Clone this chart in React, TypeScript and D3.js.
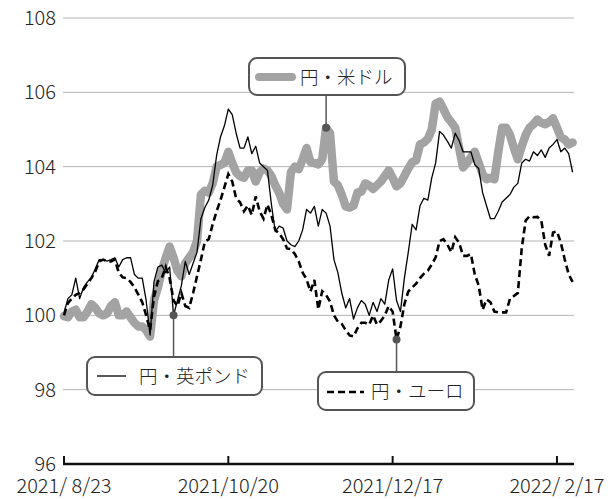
import React from 'react';
import * as d3 from 'd3';

// trading-day index series (roughly 1 point per business day)
const usdJpy = [
  99.98, 99.95, 100.1, 100.15, 99.95, 99.95, 100.1, 100.3, 100.2, 100.05,
  100.0, 100.05, 100.25, 100.35, 100.0, 100.0, 100.1, 99.95, 99.8, 99.7,
  99.7, 99.6, 99.43, 100.4, 100.75, 101.2, 101.55, 101.85, 101.55, 101.2,
  101.05, 101.4, 101.55, 101.7, 102.0, 103.25, 103.35, 103.3, 103.55, 104.0,
  104.05, 104.1, 104.4, 104.1, 103.85, 103.74, 103.7, 103.9, 103.9, 103.6,
  103.85, 103.95, 103.9, 103.75, 103.5, 103.3, 103.0, 102.85, 103.85, 104.0,
  103.93, 104.2, 104.5, 104.12, 104.1, 104.06, 104.2, 105.05, 104.9, 103.6,
  103.5, 103.25, 102.93, 102.9, 102.95, 103.3, 103.33, 103.55, 103.5, 103.4,
  103.5, 103.6, 103.75, 103.9, 103.7, 103.47, 103.55, 103.75, 103.95, 104.12,
  104.17, 104.6, 104.65, 104.75, 105.0, 105.7, 105.75, 105.55, 105.33, 105.2,
  105.05, 104.5, 103.98, 104.1, 104.25, 104.4, 104.1, 103.8, 103.66, 103.7,
  103.66, 104.4, 105.05, 105.05, 104.85, 104.5, 104.2, 104.55, 104.85, 105.05,
  105.14, 105.27, 105.18, 105.14, 105.2, 105.3, 105.05, 104.79, 104.73, 104.6,
  104.65,
];

const gbpJpy = [
  100.07, 100.45, 100.55, 101.0, 100.45, 100.75, 100.9, 101.02, 101.25, 101.5,
  101.5, 101.46, 101.5, 101.55, 101.3, 101.5, 101.55, 101.55, 101.1, 101.0,
  101.0, 100.4, 99.47, 100.9, 101.3, 101.35, 101.15, 101.3, 100.0, 100.4,
  100.8, 101.45, 101.1, 101.4, 101.7, 102.6, 102.9, 103.1, 103.5, 104.3,
  104.8, 105.1, 105.55, 105.4, 104.9, 104.5, 104.5, 104.8, 104.35, 104.55,
  104.1, 104.0, 103.9, 103.0, 102.25, 102.4, 102.35, 102.0, 101.9, 101.85,
  102.0, 102.3, 102.85, 102.75, 102.93, 102.4, 102.85, 102.75, 102.4, 101.5,
  101.15, 100.6, 100.2, 100.45, 99.9, 100.2, 100.4, 100.3, 100.0, 100.35,
  100.1, 100.45, 100.3, 100.95, 101.25, 100.4, 100.1, 101.0, 101.7, 102.45,
  102.3, 102.95, 103.15, 103.1, 103.7, 104.1, 104.95, 104.85, 104.68, 104.5,
  104.9, 104.7, 104.4, 104.4, 104.4, 104.05, 103.95, 103.3, 102.95, 102.6,
  102.6, 102.8, 103.05, 103.15, 103.25, 103.45, 103.55, 104.1, 104.2, 104.15,
  104.4, 104.3, 104.45, 104.25, 104.5, 104.6, 104.73, 104.4, 104.5, 104.35,
  103.85,
];

const eurJpy = [
  100.0, 100.33, 100.45, 100.55, 100.6, 100.7, 100.85, 101.0, 101.18, 101.45,
  101.5, 101.45, 101.45, 101.5, 101.15, 101.02, 101.0, 100.9, 100.75, 100.56,
  100.35, 100.0, 99.6, 100.5, 100.92, 101.0, 101.3, 101.0, 100.4, 100.25,
  100.6, 100.25, 100.2, 100.6, 101.05, 101.5, 101.98, 102.05, 102.45, 102.8,
  103.1, 103.45, 103.8, 103.6, 103.15, 103.04, 102.8, 102.95, 102.7, 103.2,
  102.8, 102.6, 102.98, 102.7, 102.3, 102.2, 102.05, 101.8, 101.78, 101.65,
  101.45, 101.15, 100.97, 100.64, 100.95, 100.16, 100.65, 100.55, 100.37, 100.0,
  99.83, 99.77, 99.6, 99.46, 99.43, 99.65, 99.8, 99.8, 99.75, 100.0,
  99.75, 99.85, 100.0, 100.25, 100.1, 99.35, 99.7, 100.3, 100.64, 100.75,
  100.85, 101.0, 101.12, 101.2, 101.37, 101.56, 102.0, 102.05, 101.9, 101.7,
  102.1, 101.95, 101.6, 101.6, 101.65, 101.1, 100.8, 100.15, 100.43, 100.35,
  100.1, 100.08, 100.08, 100.08, 100.45, 100.52, 100.6, 101.8, 102.55, 102.67,
  102.64, 102.65, 102.55, 101.9, 101.6, 102.23, 102.26, 101.95, 101.5, 101.1,
  100.9,
];

const yTicks = [96, 98, 100, 102, 104, 106, 108];
const xTickIdx = [0, 42, 84, 126];
const xTickLabels = ['2021/ 8/23', '2021/10/20', '2021/12/17', '2022/ 2/17'];

// callout anchor points (index into series)
const usdMark = 67;
const gbpMark = 28;
const eurMark = 85;

const W = 616;
const H = 499;
const FONT = '"Noto Sans CJK JP", "Noto Sans", sans-serif';

export default function App() {
  const x = d3.scaleLinear().domain([0, usdJpy.length - 1]).range([64, 572.6]);
  const y = d3.scaleLinear().domain([96, 108]).range([464, 18]);

  const line = d3
    .line<number>()
    .x((_, i) => x(i))
    .y(d => y(d));

  const usdPt = [x(usdMark), y(usdJpy[usdMark])];
  const gbpPt = [x(gbpMark), y(gbpJpy[gbpMark])];
  const eurPt = [x(eurMark), y(eurJpy[eurMark])];

  return (
    <svg
      width={W}
      height={H}
      style={{ position: 'absolute', left: 0, top: 0, background: '#fff' }}
      fontFamily={FONT}
      fontWeight={300}
    >
      {/* grid + y labels */}
      {yTicks.map(t => (
        <g key={t}>
          {t !== 96 && (
            <line x1={63} x2={574} y1={y(t)} y2={y(t)} stroke="#b4b4b4" strokeWidth={1} />
          )}
          <text x={56} y={y(t) + 7} textAnchor="end" fontSize={20} fill="#222">
            {t}
          </text>
        </g>
      ))}

      {/* x axis */}
      <line x1={63} x2={574} y1={464} y2={464} stroke="#111" strokeWidth={2.5} />
      {xTickIdx.map((t, i) => (
        <g key={t}>
          <line x1={x(t)} x2={x(t)} y1={464} y2={456} stroke="#111" strokeWidth={2} />
          <text x={x(t)} y={493} textAnchor="middle" fontSize={20} fill="#222" style={{ whiteSpace: 'pre' }}>
            {xTickLabels[i]}
          </text>
        </g>
      ))}

      {/* series */}
      <path d={line(usdJpy) || ''} fill="none" stroke="#a3a3a3" strokeWidth={8.5} strokeLinejoin="round" strokeLinecap="round" />
      <path d={line(gbpJpy) || ''} fill="none" stroke="#000" strokeWidth={1.3} strokeLinejoin="round" />
      <path d={line(eurJpy) || ''} fill="none" stroke="#000" strokeWidth={2.6} strokeDasharray="7 4" />

      {/* USD callout */}
      <line x1={usdPt[0]} x2={usdPt[0]} y1={95} y2={usdPt[1]} stroke="#555" strokeWidth={1.5} />
      <circle cx={usdPt[0]} cy={usdPt[1]} r={4} fill="#555" />
      <rect x={249} y={58} width={156} height={37} rx={8} fill="#fff" stroke="#555" strokeWidth={2} />
      <line x1={259} x2={292} y1={77} y2={77} stroke="#a3a3a3" strokeWidth={8} strokeLinecap="round" />
      <text x={300} y={83.5} fontSize={18.5} fill="#222">円・米ドル</text>

      {/* GBP callout */}
      <line x1={gbpPt[0]} x2={gbpPt[0]} y1={gbpPt[1]} y2={357} stroke="#555" strokeWidth={1.5} />
      <circle cx={gbpPt[0]} cy={gbpPt[1]} r={4} fill="#555" />
      <rect x={87} y={357} width={175} height={38} rx={8} fill="#fff" stroke="#555" strokeWidth={2} />
      <line x1={97} x2={126} y1={376} y2={376} stroke="#000" strokeWidth={1.3} />
      <text x={139} y={383} fontSize={18.5} fill="#222">円・英ポンド</text>

      {/* EUR callout */}
      <line x1={eurPt[0]} x2={eurPt[0]} y1={eurPt[1]} y2={372} stroke="#555" strokeWidth={1.5} />
      <circle cx={eurPt[0]} cy={eurPt[1]} r={4} fill="#555" />
      <rect x={318} y={372} width={156} height={38} rx={8} fill="#fff" stroke="#555" strokeWidth={2} />
      <line x1={327} x2={364} y1={392} y2={392} stroke="#000" strokeWidth={2.6} strokeDasharray="7 4" />
      <text x={371} y={398} fontSize={18.5} fill="#222">円・ユーロ</text>
    </svg>
  );
}
